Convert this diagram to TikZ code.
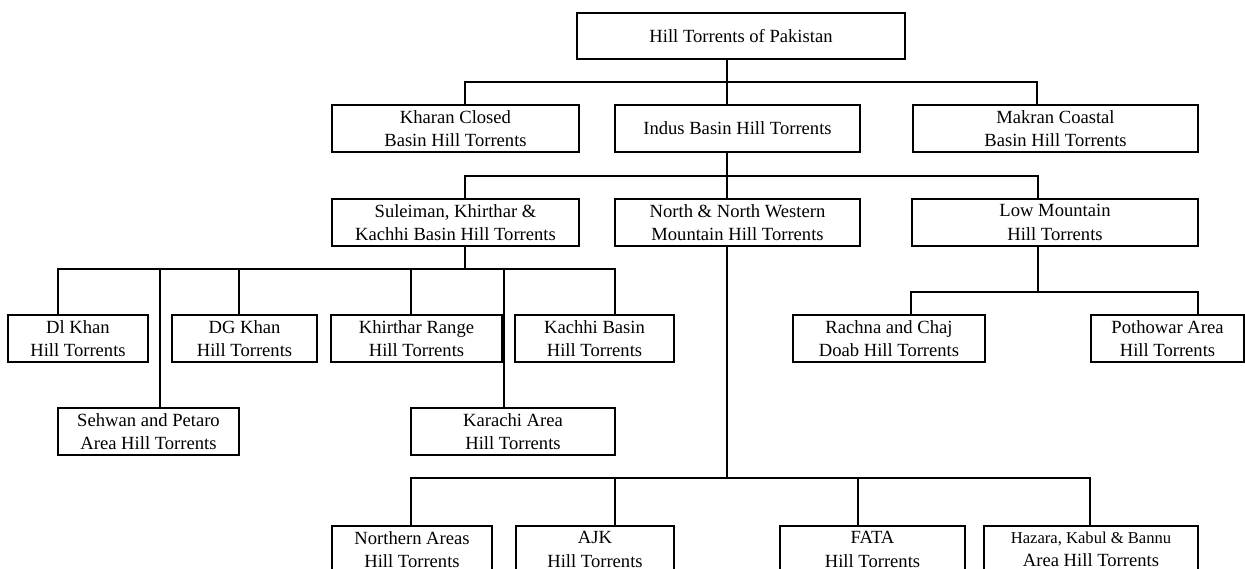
\documentclass[tikz,border=0pt]{standalone}
\usepackage{fontspec}
\setmainfont{Liberation Serif}
\usepackage{tikz}
\tikzset{hbox/.style={draw=black, line width=2.4pt, inner sep=0pt, align=center, minimum height=47pt, font=\fontsize{18.6}{23.5}\selectfont}}

\begin{document}
\begin{tikzpicture}[x=1pt,y=-1pt,line width=2.4pt]
    \fill[white] (0,0) rectangle (1245,568);
    \useasboundingbox (0,0) rectangle (1245,568);

    % boxes, row by row
    \node[hbox,minimum width=328pt,minimum height=46pt] (root) at (741,36) {Hill Torrents of Pakistan};

    \node[hbox,minimum width=247pt] (kharan) at (455.5,128.5) {Kharan Closed\\Basin Hill Torrents};
    \node[hbox,minimum width=245pt] (indus) at (737.5,128.5) {Indus Basin Hill Torrents};
    \node[hbox,minimum width=285pt] (makran) at (1055.5,128.5) {Makran Coastal\\Basin Hill Torrents};

    \node[hbox,minimum width=247pt] (sule) at (455.5,222.5) {Suleiman, Khirthar \&\\Kachhi Basin Hill Torrents};
    \node[hbox,minimum width=245pt] (north) at (737.5,222.5) {North \& North Western\\Mountain Hill Torrents};
    \node[hbox,minimum width=286pt] (low) at (1055,222.5) {Low Mountain\\Hill Torrents};

    \node[hbox,minimum width=140pt] (dik) at (78,338.5) {Dl Khan\\Hill Torrents};
    \node[hbox,minimum width=145pt] (dgk) at (244.5,338.5) {DG Khan\\Hill Torrents};
    \node[hbox,minimum width=171pt] (khir) at (416.5,338.5) {Khirthar Range\\Hill Torrents};
    \node[hbox,minimum width=159pt] (kachhi) at (594.5,338.5) {Kachhi Basin\\Hill Torrents};
    \node[hbox,minimum width=192pt] (rachna) at (889,338.5) {Rachna and Chaj\\Doab Hill Torrents};
    \node[hbox,minimum width=153pt] (potho) at (1167.5,338.5) {Pothowar Area\\Hill Torrents};

    \node[hbox,minimum width=181pt] (sehwan) at (148.5,431.5) {Sehwan and Petaro\\Area Hill Torrents};
    \node[hbox,minimum width=204pt] (karachi) at (513,431.5) {Karachi Area\\Hill Torrents};

    \node[hbox,minimum width=160pt] (narea) at (412,549.5) {Northern Areas\\Hill Torrents};
    \node[hbox,minimum width=158pt] (ajk) at (595,549.5) {AJK\\Hill Torrents};
    \node[hbox,minimum width=185pt] (fata) at (872.5,549.5) {FATA\\Hill Torrents};
    \node[hbox,minimum width=214pt] (hazara) at (1091,549.5) {{\fontsize{16.6}{23.5}\selectfont Hazara, Kabul \& Bannu}\\Area Hill Torrents};

    % bus lines
    \coordinate (j0) at (727,82);
    \coordinate (j1) at (727,176);
    \coordinate (j2) at (465,269);
    \coordinate (j3) at (1038,292);
    \coordinate (j4) at (727,478);

    \draw (root.south -| j0) -- (j0);
    \draw (kharan.north -| 465,0) |- (j0) -| (makran.north -| 1037,0);
    \draw (j0) -- (indus.north -| j0);

    \draw (indus.south -| j1) -- (j1);
    \draw (sule.north -| 465,0) |- (j1) -| (low.north -| 1038,0);
    \draw (j1) -- (north.north -| j1);

    \draw (sule.south -| j2) -- (j2);
    \draw (dik.north -| 58,0) |- (j2) -| (kachhi.north -| 615,0);
    \draw (sehwan.north -| 160,0) |- (j2);
    \draw (dgk.north -| 239,0) |- (j2);
    \draw (khir.north -| 411,0) |- (j2);
    \draw (karachi.north -| 504,0) |- (j2);

    \draw (low.south -| j3) -- (j3);
    \draw (rachna.north -| 911,0) |- (j3) -| (potho.north -| 1198,0);

    \draw (north.south -| j4) -- (j4);
    \draw (narea.north -| 411,0) |- (j4) -| (hazara.north -| 1090,0);
    \draw (ajk.north -| 615,0) |- (j4);
    \draw (fata.north -| 858,0) |- (j4);
\end{tikzpicture}
\end{document}
